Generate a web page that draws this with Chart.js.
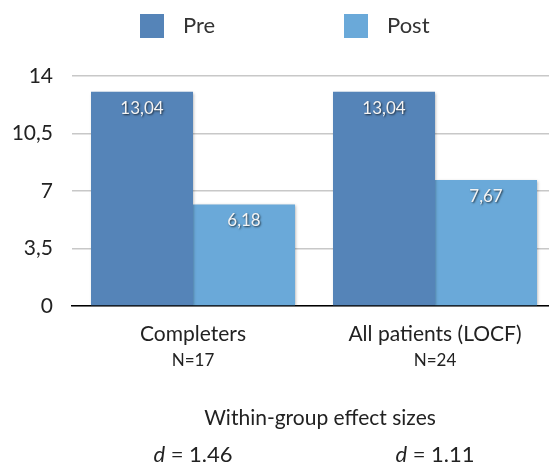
<!DOCTYPE html>
<html>
<head>
<meta charset="utf-8">
<script src="https://cdn.jsdelivr.net/npm/chart.js@4.4.1/dist/chart.umd.min.js"></script>
<style>
  html, body { margin: 0; padding: 0; background: #fff; overflow: hidden; }
  #wrap { width: 560px; height: 466px; }
</style>
</head>
<body>
<div id="wrap"><canvas id="chart"></canvas></div>
<script>
const groups = ["Completers", "All patients (LOCF)"];
const groupN = ["N=17", "N=24"];
const preValues = [13.04, 13.04];
const postValues = [6.18, 7.67];
const effectSizes = ["1.46", "1.11"];
const yTicks = [0, 3.5, 7, 10.5, 14];

const FONT = "Lato, 'Open Sans', sans-serif";
const preColor = "#5584b8";
const postColor = "#6aa9d9";

const fmt = v => String(v).replace(".", ",");

// legend + value labels + text under the axis
const extras = {
  id: "extras",
  beforeDatasetsDraw(chart) {
    const ctx = chart.ctx;
    ctx.save();
    ctx.shadowColor = "rgba(0,0,0,0.35)";
    ctx.shadowBlur = 3;
    ctx.shadowOffsetX = 1;
    ctx.shadowOffsetY = 1;
  },
  afterDatasetsDraw(chart) {
    const ctx = chart.ctx;
    ctx.restore();
    ctx.save();
    ctx.font = "17px " + FONT;
    ctx.fillStyle = "#f4f4f4";
    ctx.textAlign = "center";
    ctx.textBaseline = "top";
    ctx.shadowColor = "rgba(0,0,0,0.7)";
    ctx.shadowBlur = 2;
    ctx.shadowOffsetX = 1;
    ctx.shadowOffsetY = 1;
    chart.data.datasets.forEach((ds, i) => {
      chart.getDatasetMeta(i).data.forEach((bar, j) => {
        ctx.fillText(fmt(ds.data[j]), bar.x, bar.y + 8);
      });
    });
    ctx.restore();
  },
  afterDraw(chart) {
    const ctx = chart.ctx;
    const x = chart.scales.x;
    ctx.save();
    // legend
    ctx.textBaseline = "middle";
    ctx.textAlign = "left";
    ctx.font = "22px " + FONT;
    chart.data.datasets.forEach((ds, i) => {
      const lx = [140, 344][i];
      ctx.fillStyle = ds.backgroundColor;
      ctx.fillRect(lx, 14, 24, 24);
      ctx.fillStyle = "#333";
      ctx.fillText(ds.label, lx + 43, 26);
    });
    // N under categories
    ctx.textAlign = "center";
    ctx.font = "17px " + FONT;
    ctx.fillStyle = "#222";
    groupN.forEach((n, i) => {
      ctx.fillText(n, x.getPixelForValue(i), 361);
    });
    ctx.font = "21px " + FONT;
    ctx.fillText("Within-group effect sizes", 320, 418);
    effectSizes.forEach((d, i) => {
      const cx = x.getPixelForValue(i);
      ctx.font = "italic 22px " + FONT;
      const w1 = ctx.measureText("d").width;
      ctx.font = "22px " + FONT;
      const rest = " = " + d;
      const w2 = ctx.measureText(rest).width;
      const sx = cx - (w1 + w2) / 2;
      ctx.textAlign = "left";
      ctx.font = "italic 22px " + FONT;
      ctx.fillText("d", sx, 455);
      ctx.font = "22px " + FONT;
      ctx.fillText(rest, sx + w1, 455);
      ctx.textAlign = "center";
    });
    ctx.restore();
  }
};

new Chart(document.getElementById("chart"), {
  type: "bar",
  data: {
    labels: groups,
    datasets: [
      { label: "Pre", data: preValues, backgroundColor: preColor },
      { label: "Post", data: postValues, backgroundColor: postColor }
    ]
  },
  options: {
    responsive: true,
    maintainAspectRatio: false,
    animation: false,
    layout: { padding: { top: 76, bottom: 120, left: 0, right: 4 } },
    datasets: {
      bar: { categoryPercentage: 0.843, barPercentage: 1.0 }
    },
    plugins: {
      legend: { display: false },
      tooltip: { enabled: false }
    },
    scales: {
      x: {
        afterFit: axis => { axis.height = 40; },
        grid: { display: false, drawTicks: false },
        border: { display: true, color: "#000", width: 1.5 },
        ticks: { color: "#222", font: { family: FONT, size: 21 }, padding: 16 }
      },
      y: {
        min: 0,
        max: 14,
        afterFit: axis => { axis.width = 72; },
        afterBuildTicks: axis => { axis.ticks = yTicks.map(v => ({ value: v })); },
        grid: { color: "#c8c8c8", lineWidth: 1.5, drawTicks: false },
        border: { display: false },
        ticks: {
          color: "#222",
          font: { family: FONT, size: 21 },
          padding: 19,
          callback: v => fmt(v)
        }
      }
    }
  },
  plugins: [extras]
});
</script>
</body>
</html>
